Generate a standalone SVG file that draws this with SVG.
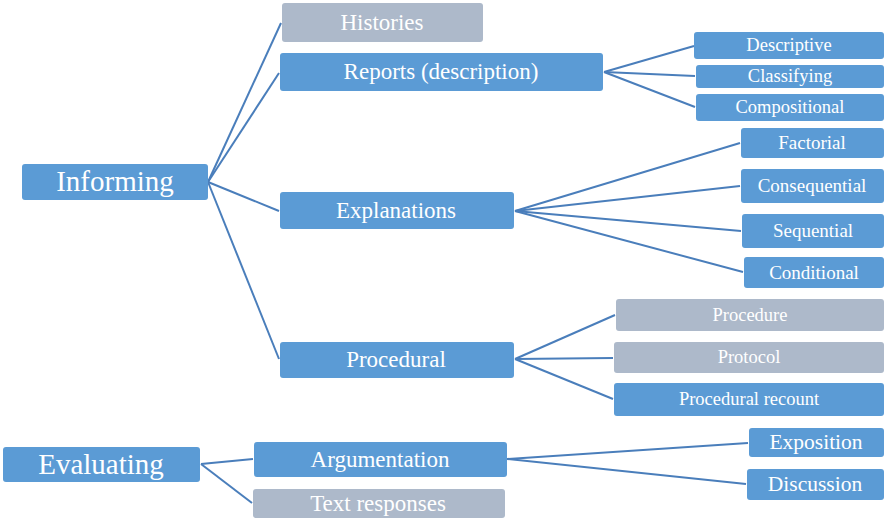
<svg xmlns="http://www.w3.org/2000/svg" width="887" height="529" viewBox="0 0 887 529">
<style>
.b{fill:#5B9BD5}
.g{fill:#ADB9CA}
text{fill:#fff;text-anchor:middle}
.t1{font-size:29px}
.t2{font-size:23px}
.t3{font-size:18.5px}
.t4{font-size:19px}
.t5{font-size:21.5px}
#connectors line{stroke:#4A7EBB;stroke-width:2;fill:none}
</style>
<rect width="887" height="529" fill="#fff"/>
<g id="connectors">
<line x1="208" y1="182" x2="281" y2="23"/>
<line x1="208" y1="182" x2="279" y2="73"/>
<line x1="208" y1="182" x2="279" y2="211"/>
<line x1="208" y1="182" x2="279" y2="359"/>
<line x1="604" y1="72" x2="694" y2="46"/>
<line x1="604" y1="72" x2="695" y2="76"/>
<line x1="604" y1="72" x2="695" y2="107"/>
<line x1="515" y1="211" x2="740" y2="143"/>
<line x1="515" y1="211" x2="740" y2="186"/>
<line x1="515" y1="211" x2="741" y2="231"/>
<line x1="515" y1="211" x2="743" y2="272"/>
<line x1="515" y1="359" x2="615" y2="315"/>
<line x1="515" y1="359" x2="613" y2="358"/>
<line x1="515" y1="359" x2="613" y2="399"/>
<line x1="507" y1="459" x2="748" y2="443"/>
<line x1="507" y1="459" x2="746" y2="484"/>
<line x1="201" y1="464" x2="253" y2="459"/>
<line x1="201" y1="464" x2="252" y2="503"/>
</g>
<g font-family="Liberation Serif, Times New Roman, serif">
<g id="informing"><rect class="b" x="22" y="164" width="186" height="36" rx="3"/><text class="t1" x="115" y="191">Informing</text></g>
<g id="histories"><rect class="g" x="282" y="3" width="201" height="39" rx="3"/><text class="t2" x="382" y="29.5">Histories</text></g>
<g id="reports"><rect class="b" x="280" y="53" width="323" height="38" rx="3"/><text class="t2" x="441" y="79">Reports (description)</text></g>
<g id="explanations"><rect class="b" x="280" y="192" width="234" height="37" rx="3"/><text class="t2" x="396" y="217.5">Explanations</text></g>
<g id="procedural"><rect class="b" x="280" y="342" width="234" height="36" rx="3"/><text class="t2" x="396" y="367">Procedural</text></g>
<g id="descriptive"><rect class="b" x="694" y="32" width="190" height="27" rx="3"/><text class="t3" x="789" y="51">Descriptive</text></g>
<g id="classifying"><rect class="b" x="696" y="65" width="188" height="23" rx="3"/><text class="t3" x="790" y="82">Classifying</text></g>
<g id="compositional"><rect class="b" x="696" y="94" width="188" height="27" rx="3"/><text class="t3" x="790" y="113">Compositional</text></g>
<g id="factorial"><rect class="b" x="741" y="128" width="143" height="30" rx="3"/><text class="t4" x="812" y="149">Factorial</text></g>
<g id="consequential"><rect class="b" x="741" y="169" width="143" height="34" rx="3"/><text class="t4" x="812" y="192">Consequential</text></g>
<g id="sequential"><rect class="b" x="742" y="214" width="142" height="34" rx="3"/><text class="t4" x="813" y="237">Sequential</text></g>
<g id="conditional"><rect class="b" x="744" y="257" width="140" height="31" rx="3"/><text class="t4" x="814" y="278.5">Conditional</text></g>
<g id="procedure"><rect class="g" x="616" y="299" width="268" height="32" rx="3"/><text class="t3" x="750" y="320.5">Procedure</text></g>
<g id="protocol"><rect class="g" x="614" y="342" width="270" height="31" rx="3"/><text class="t3" x="749" y="363">Protocol</text></g>
<g id="procedural-recount"><rect class="b" x="614" y="383" width="270" height="33" rx="3"/><text class="t3" x="749" y="405">Procedural recount</text></g>
<g id="evaluating"><rect class="b" x="3" y="447" width="197" height="35" rx="3"/><text class="t1" x="101" y="473.5">Evaluating</text></g>
<g id="argumentation"><rect class="b" x="254" y="442" width="253" height="35" rx="3"/><text class="t2" x="380" y="466.5">Argumentation</text></g>
<g id="text-responses"><rect class="g" x="253" y="489" width="252" height="29" rx="3"/><text class="t2" x="378" y="510.5">Text responses</text></g>
<g id="exposition"><rect class="b" x="749" y="428" width="135" height="29" rx="3"/><text class="t5" x="816" y="449">Exposition</text></g>
<g id="discussion"><rect class="b" x="747" y="469" width="137" height="31" rx="3"/><text class="t5" x="815" y="491">Discussion</text></g>
</g>
</svg>
